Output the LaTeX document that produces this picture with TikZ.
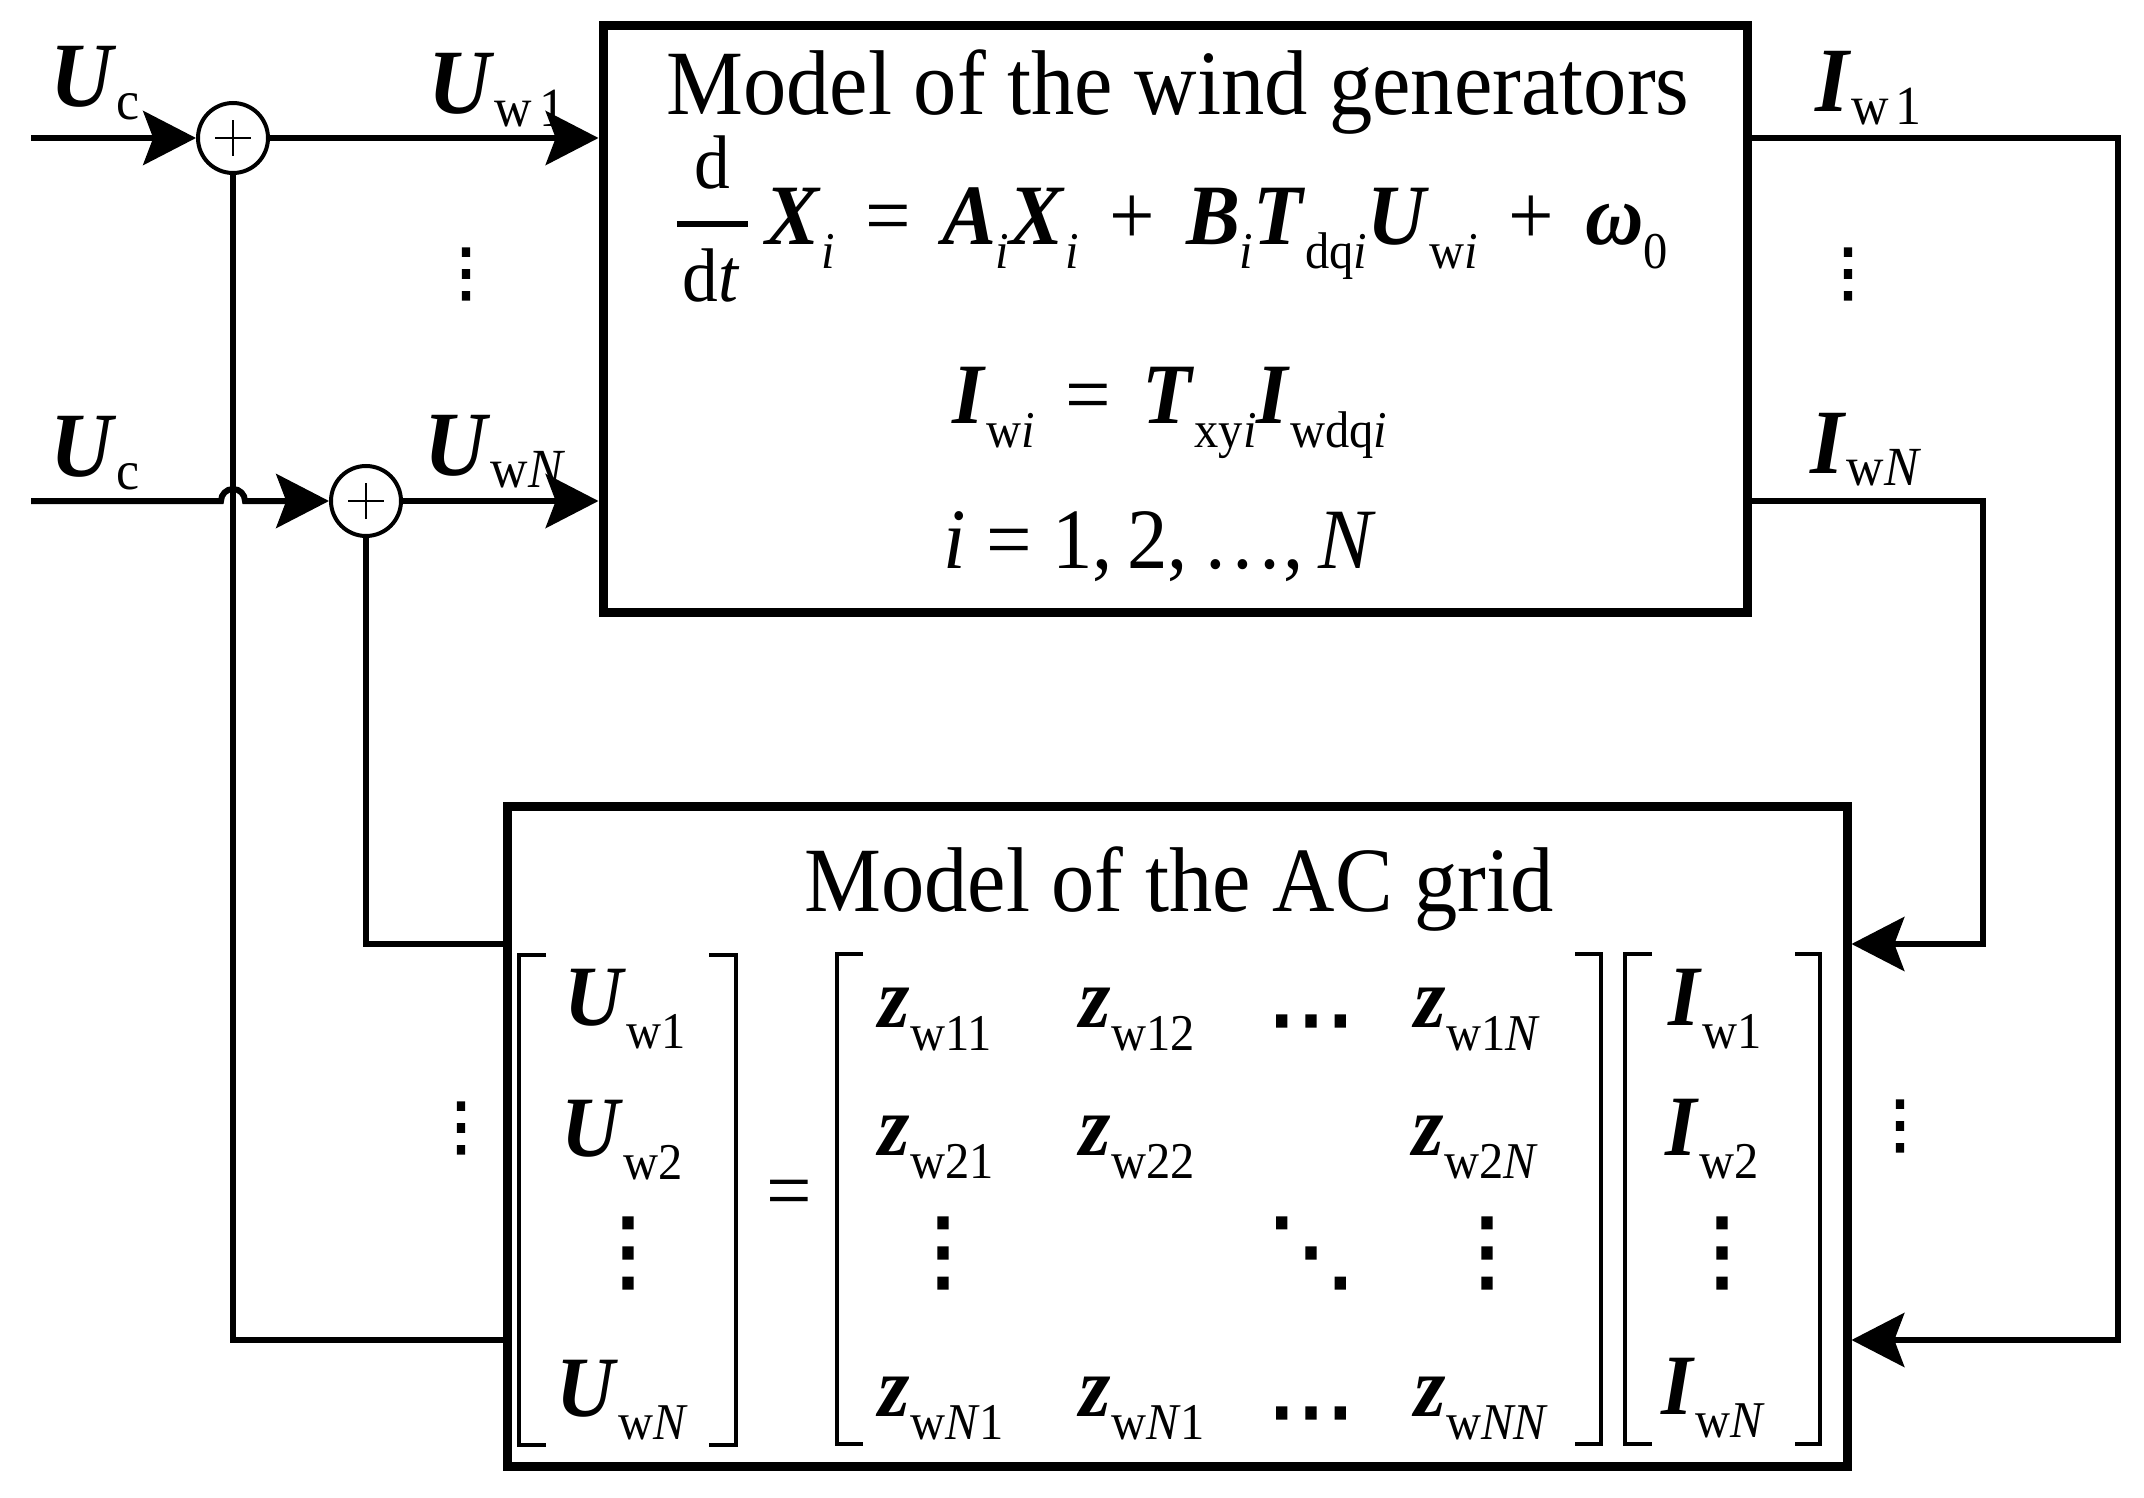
\documentclass[tikz,border=0pt]{standalone}
\usepackage{fontspec}
\setmainfont{Liberation Serif}[FakeStretch=0.94]
\newfontfamily\djv{DejaVu Sans}[FakeBold=2.5]
\usepackage{amsmath}
\usepackage{graphicx}
\usetikzlibrary{arrows.meta}

\newcommand\bi[1]{\textbf{\textit{#1}}}
\newcommand\lsub[2][0.14em]{\raisebox{-#1}{\scalebox{0.6}{#2}}}
\newcommand\op[1]{\hspace{0.36em}#1\hspace{0.36em}}
\newcommand\ddt{$\genfrac{}{}{1.6pt}{0}{\hbox{\fontsize{19}{22}\selectfont d}}{\hbox{\fontsize{19}{22}\selectfont\kern1.5pt d\textit{t}\kern2pt}}$}

\begin{document}
\begin{tikzpicture}[x=0.25pt,y=-0.25pt,
  conn/.style={line width=1.5pt},
  arr/.style={-{Stealth[length=13.2pt,width=13.5pt,inset=2.5pt]}},
  boxst/.style={draw,line width=2.25pt,inner sep=0pt},
  sumnode/.style={circle,draw,line width=1pt,minimum size=17.5pt,inner sep=0pt,
    path picture={\draw[line width=0.5pt] (path picture bounding box.center) ++(-4.4pt,0pt) -- ++(8.8pt,0pt);
                  \draw[line width=0.5pt] (path picture bounding box.center) ++(0pt,-4.5pt) -- ++(0pt,9pt);}},
  lbl/.style={anchor=base west,inner sep=0pt,font=\fontsize{23}{27}\selectfont},
  ttl/.style={anchor=base,inner sep=0pt,font=\fontsize{23}{27}\selectfont},
  eq/.style={anchor=base,inner sep=0pt,font=\fontsize{21.5}{25}\selectfont},
  mat/.style={anchor=base west,inner sep=0pt,font=\fontsize{21.5}{25}\selectfont},
  sdots/.style={inner sep=0pt,font=\djv\fontsize{16}{18}\selectfont},
  mdots/.style={inner sep=0pt,font=\djv\fontsize{22}{24}\selectfont},
  brk/.style={line width=1.1pt}]
\fill[white] (0,0) rectangle (2144,1498);
\useasboundingbox (0,0) rectangle (2144,1498);

% blocks
\node[boxst,minimum width=286pt,minimum height=146.5pt] (box1) at (1175,319) {};
\node[boxst,minimum width=335pt,minimum height=165pt] (box2) at (1177,1136) {};
\node[sumnode] (sum1) at (233,138) {};
\node[sumnode] (sum2) at (366,501) {};

% helper coordinates
\coordinate (in1) at (31,138);
\coordinate (in2) at (31,501);
\coordinate (hop) at (221,501);
\coordinate (yA) at (0,944);
\coordinate (yB) at (0,1340);
\coordinate (xI1) at (2118,0);
\coordinate (xIN) at (1983,0);

% connectors
\draw[conn,arr] (in1) -- (sum1);
\draw[conn,arr] (sum1) -- (sum1 -| box1.west);
\draw[conn] (sum1.south) |- (yB -| box2.west);
\draw[conn,arr] (in2) -- (hop) arc[start angle=180,end angle=0,radius=3pt] -- (sum2);
\draw[conn,arr] (sum2) -- (sum2 -| box1.west);
\draw[conn] (sum2.south) |- (yA -| box2.west);
\draw[conn,arr] (sum1 -| box1.east) -| (xI1 |- yB) -- (yB -| box2.east);
\draw[conn,arr] (sum2 -| box1.east) -| (xIN |- yA) -- (yA -| box2.east);

% signal labels
\node[lbl] (lUc1) at (50,107) {\bi{U}\lsub{c}};
\node[lbl] (lUc2) at (50,477) {\bi{U}\lsub{c}};
\node[lbl] (lUw1) at (428,114) {\bi{U}\lsub{w\kern0.12em1}};
\node[lbl] (lUwN) at (424,475) {\bi{U}\lsub{w\textit{N}}};
\node[lbl] (lIw1) at (1815,112) {\bi{I}\lsub{w\kern0.12em1}};
\node[lbl] (lIwN) at (1810,473) {\bi{I}\lsub{w\textit{N}}};
\node[sdots] (d1) at (466,274) {⋮};
\node[sdots] (d2) at (1848,274) {⋮};
\node[sdots] (d3) at (461,1128) {⋮};
\node[sdots] (d4) at (1900,1126) {⋮};

% wind generator model
\node[ttl] (t1) at (1178,115) {Model of the wind generators};
\node[eq] (e1) at (1170,245) {\ddt\kern0.15em\bi{X}\lsub[0.27em]{\textit{i}}\op{=}\bi{A}\lsub[0.27em]{\textit{i}}\bi{X}\lsub[0.27em]{\textit{i}}\op{+}\bi{B}\lsub[0.27em]{\textit{i}}\bi{T}\lsub[0.27em]{dq\textit{i}}\bi{U}\lsub[0.27em]{w\textit{i}}\op{+}\bi{ω}\lsub[0.27em]{0}};
\node[eq] (e2) at (1170,424) {\bi{I}\lsub[0.27em]{w\textit{i}}\op{=}\bi{T}\lsub[0.27em]{xy\textit{i}}\bi{I}\lsub[0.27em]{wdq\textit{i}}};
\node[eq] (e3) at (1160,569) {\textit{i} = 1,\kern0.17em2,\kern0.17em\ldots,\kern0.17em\textit{N}};

% AC grid model
\node[ttl] (t2) at (1179,911) {Model of the AC grid};
\draw[brk] (546,955) -- (519,955) -- (519,1445) -- (546,1445);
\draw[brk] (709,955) -- (736,955) -- (736,1445) -- (709,1445);
\draw[brk] (863,954) -- (837,954) -- (837,1444) -- (863,1444);
\draw[brk] (1575,954) -- (1601,954) -- (1601,1444) -- (1575,1444);
\draw[brk] (1652,954) -- (1625,954) -- (1625,1444) -- (1652,1444);
\draw[brk] (1795,954) -- (1820,954) -- (1820,1444) -- (1795,1444);

\node[mat] (u1) at (564,1025) {\bi{U}\lsub[0.27em]{w1}};
\node[mat] (u2) at (561,1156) {\bi{U}\lsub[0.27em]{w2}};
\node[mdots] (u3) at (628,1253) {⋮};
\node[mat] (u4) at (556,1416) {\bi{U}\lsub[0.27em]{w\textit{N}}};

\node[inner sep=0pt,font=\fontsize{21.5}{25}\selectfont] (eqs) at (789,1200) {=};

\node[mat] (z11) at (878,1027) {\bi{z}\lsub[0.27em]{w11}};
\node[mat] (z12) at (1079,1027) {\bi{z}\lsub[0.27em]{w12}};
\node[mdots] (z13) at (1311,1032) {⋯};
\node[mat] (z14) at (1414,1027) {\bi{z}\lsub[0.27em]{w1\textit{N}}};
\node[mat] (z21) at (878,1155) {\bi{z}\lsub[0.27em]{w21}};
\node[mat] (z22) at (1079,1155) {\bi{z}\lsub[0.27em]{w22}};
\node[mat] (z24) at (1412,1155) {\bi{z}\lsub[0.27em]{w2\textit{N}}};
\node[mdots] (z31) at (943,1253) {⋮};
\node[mdots] (z33) at (1311,1253) {⋱};
\node[mdots] (z34) at (1487,1253) {⋮};
\node[mat] (z41) at (878,1416) {\bi{z}\lsub[0.27em]{w\textit{N}1}};
\node[mat] (z42) at (1079,1416) {\bi{z}\lsub[0.27em]{w\textit{N}1}};
\node[mdots] (z43) at (1311,1424) {⋯};
\node[mat] (z44) at (1414,1416) {\bi{z}\lsub[0.27em]{w\textit{NN}}};

\node[mat] (i1) at (1668,1025) {\bi{I}\lsub[0.27em]{w1}};
\node[mat] (i2) at (1665,1155) {\bi{I}\lsub[0.27em]{w2}};
\node[mdots] (i3) at (1722,1253) {⋮};
\node[mat] (i4) at (1661,1414) {\bi{I}\lsub[0.27em]{w\textit{N}}};
\end{tikzpicture}
\end{document}
